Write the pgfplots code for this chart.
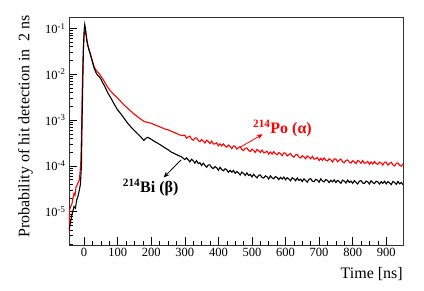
\documentclass[border=0pt]{standalone}
\usepackage{fontspec}
\setmainfont{Liberation Serif}
\usepackage{pgfplots}
\usepackage{pgfplotstable}
\pgfplotsset{compat=1.18}
\usetikzlibrary{arrows.meta}

\pgfplotstableread{
x y
-45 3.5e-6
-43 1.1e-5
-40 1.3e-5
-36 1.5e-5
-33 2.0e-5
-30 2.5e-5
-27 2.3e-5
-24 3.5e-5
-21 3.8e-5
-18 4.3e-5
-14 5.0e-5
-10 1.1e-4
-8 4.0e-4
-6 3.0e-3
-4 1.5e-2
-2 4.0e-2
0 7.0e-2
2 0.085
4 0.092
6 0.075
8 0.060
10 0.048
14 0.036
18 0.029
22 0.023
26 0.018
30 0.0145
35 0.0125
40 0.0112
45 0.0103
50 0.0090
55 0.0080
60 0.0070
70 0.0052
80 0.0042
90 0.0035
100 0.0030
110 0.0025
120 0.0021
130 0.0018
140 0.00155
150 0.00133
160 0.00117
170 0.00103
180 0.00092
190 0.00089
200 0.00085
210 0.00079
220 0.00074
230 0.00069
240 0.00064
250 0.00061
260 0.00057
270 0.00053
280 0.00049
290 0.00046
300 4.68e-4
305 4.02e-4
310 4.27e-4
315 4.47e-4
320 3.86e-4
325 3.62e-4
330 4.05e-4
335 4.08e-4
340 3.59e-4
345 3.37e-4
350 3.76e-4
355 3.48e-4
360 3.15e-4
365 3.63e-4
370 3.40e-4
375 3.08e-4
380 3.47e-4
385 3.00e-4
390 3.03e-4
395 3.19e-4
400 2.74e-4
405 3.02e-4
410 2.72e-4
415 3.03e-4
420 2.71e-4
425 2.56e-4
430 2.84e-4
435 2.67e-4
440 2.38e-4
445 2.73e-4
450 2.69e-4
455 2.33e-4
460 2.49e-4
465 2.63e-4
470 2.28e-4
475 2.16e-4
480 2.43e-4
485 2.46e-4
490 2.18e-4
495 2.06e-4
500 2.32e-4
505 2.16e-4
510 1.97e-4
515 2.28e-4
520 2.15e-4
525 1.97e-4
530 2.22e-4
535 1.94e-4
540 1.98e-4
545 2.09e-4
550 1.81e-4
555 2.01e-4
560 1.81e-4
565 2.05e-4
570 1.84e-4
575 1.75e-4
580 1.95e-4
585 1.85e-4
590 1.67e-4
595 1.92e-4
600 1.90e-4
605 1.65e-4
610 1.77e-4
615 1.87e-4
620 1.63e-4
625 1.55e-4
630 1.74e-4
635 1.77e-4
640 1.57e-4
645 1.49e-4
650 1.67e-4
655 1.57e-4
660 1.43e-4
665 1.65e-4
670 1.56e-4
675 1.43e-4
680 1.61e-4
685 1.40e-4
690 1.44e-4
695 1.52e-4
700 1.31e-4
705 1.46e-4
710 1.32e-4
715 1.49e-4
720 1.34e-4
725 1.28e-4
730 1.43e-4
735 1.35e-4
740 1.22e-4
745 1.41e-4
750 1.41e-4
755 1.23e-4
760 1.33e-4
765 1.41e-4
770 1.23e-4
775 1.17e-4
780 1.32e-4
785 1.35e-4
790 1.20e-4
795 1.15e-4
800 1.30e-4
805 1.22e-4
810 1.12e-4
815 1.31e-4
820 1.25e-4
825 1.14e-4
830 1.31e-4
835 1.14e-4
840 1.17e-4
845 1.25e-4
850 1.09e-4
855 1.22e-4
860 1.10e-4
865 1.25e-4
870 1.13e-4
875 1.08e-4
880 1.21e-4
885 1.15e-4
890 1.04e-4
895 1.21e-4
900 1.20e-4
905 1.04e-4
910 1.13e-4
915 1.20e-4
920 1.05e-4
925 1.00e-4
930 1.13e-4
935 1.16e-4
940 1.03e-4
945 0.99e-4
950 1.11e-4
}\po

\pgfplotstableread{
x y
-45 4.0e-6
-42 5.0e-6
-38 7.5e-6
-34 1.0e-5
-30 1.3e-5
-26 1.2e-5
-22 1.8e-5
-18 2.2e-5
-14 3.0e-5
-11 4.0e-5
-8 1.0e-4
-6 1.0e-3
-4 6.0e-3
-2 3.5e-2
0 9.0e-2
2 0.122
4 0.100
6 0.070
8 0.055
10 0.045
14 0.035
18 0.028
22 0.022
26 0.017
30 0.0135
35 0.0110
40 0.0095
45 0.0088
50 0.0078
55 0.0066
60 0.0057
70 0.0040
80 0.0030
90 0.0022
100 0.00166
110 0.00135
120 0.00107
130 0.00085
140 0.00070
150 0.00059
160 0.00050
170 0.00042
178 0.00036
184 0.00040
190 0.00042
200 0.00038
210 0.00034
220 0.00031
230 0.00028
240 0.00025
250 0.000225
260 0.00020
270 0.000185
280 0.000170
290 0.000158
300 13.73e-5
305 14.90e-5
310 13.67e-5
315 12.24e-5
320 13.98e-5
325 12.96e-5
330 11.51e-5
335 12.98e-5
340 11.23e-5
345 11.72e-5
350 10.19e-5
355 11.46e-5
360 10.26e-5
365 9.31e-5
370 10.50e-5
375 10.55e-5
380 9.17e-5
385 8.77e-5
390 9.67e-5
395 9.09e-5
400 8.01e-5
405 9.32e-5
410 8.31e-5
415 7.83e-5
420 8.66e-5
425 8.18e-5
430 7.25e-5
435 8.03e-5
440 7.28e-5
445 7.97e-5
450 6.88e-5
455 7.56e-5
460 7.01e-5
465 6.35e-5
470 7.33e-5
475 6.88e-5
480 6.19e-5
485 7.05e-5
490 6.18e-5
495 6.52e-5
500 5.74e-5
505 6.54e-5
510 5.94e-5
515 5.46e-5
520 6.24e-5
525 6.36e-5
530 5.60e-5
535 5.43e-5
540 6.06e-5
545 5.78e-5
550 5.17e-5
555 6.08e-5
560 5.48e-5
565 5.23e-5
570 5.85e-5
575 5.59e-5
580 5.02e-5
585 5.63e-5
590 5.16e-5
595 5.71e-5
600 4.99e-5
605 5.52e-5
610 5.18e-5
615 4.73e-5
620 5.52e-5
625 5.22e-5
630 4.74e-5
635 5.45e-5
640 4.82e-5
645 5.13e-5
650 4.56e-5
655 5.23e-5
660 4.78e-5
665 4.43e-5
670 5.10e-5
675 5.24e-5
680 4.64e-5
685 4.53e-5
690 5.10e-5
695 4.90e-5
700 4.41e-5
705 5.20e-5
710 4.70e-5
715 4.48e-5
720 5.03e-5
725 4.82e-5
730 4.33e-5
735 4.87e-5
740 4.47e-5
745 4.96e-5
750 4.34e-5
755 4.83e-5
760 4.55e-5
765 4.18e-5
770 4.89e-5
775 4.66e-5
780 4.24e-5
785 4.91e-5
790 4.36e-5
795 4.66e-5
800 4.16e-5
805 4.77e-5
810 4.36e-5
815 4.04e-5
820 4.65e-5
825 4.77e-5
830 4.23e-5
835 4.14e-5
840 4.65e-5
845 4.47e-5
850 4.02e-5
855 4.75e-5
860 4.31e-5
865 4.12e-5
870 4.63e-5
875 4.45e-5
880 4.01e-5
885 4.52e-5
890 4.16e-5
895 4.62e-5
900 4.06e-5
905 4.52e-5
910 4.25e-5
915 3.90e-5
920 4.57e-5
925 4.35e-5
930 3.96e-5
935 4.58e-5
940 4.06e-5
945 4.35e-5
950 3.88e-5
}\bi

\begin{document}
\begin{tikzpicture}
\useasboundingbox (-69pt,-45pt) rectangle (355pt,245pt);
\begin{axis}[
  at={(0,0)}, anchor=south west,
  scale only axis, width=334pt, height=228pt,
  ymode=log,
  xmin=-45, xmax=950, ymin=1.88e-6, ymax=0.177,
  axis line style={black!80, line width=0.7pt},
  xtick pos=lower, ytick pos=left, tick align=inside,
  xtick={0,100,...,900}, minor x tick num=3,
  ytick={1e-5,1e-4,1e-3,1e-2,1e-1},
  yticklabels={10\textsuperscript{-5},10\textsuperscript{-4},10\textsuperscript{-3},10\textsuperscript{-2},10\textsuperscript{-1}},
  minor ytick={2e-6,3e-6,4e-6,5e-6,6e-6,7e-6,8e-6,9e-6,
               2e-5,3e-5,4e-5,5e-5,6e-5,7e-5,8e-5,9e-5,
               2e-4,3e-4,4e-4,5e-4,6e-4,7e-4,8e-4,9e-4,
               2e-3,3e-3,4e-3,5e-3,6e-3,7e-3,8e-3,9e-3,
               2e-2,3e-2,4e-2,5e-2,6e-2,7e-2,8e-2,9e-2},
  major tick length=8pt, minor tick length=4pt,
  tick style={black, line width=0.5pt},
  ticklabel style={font=\rmfamily\fontsize{12.5}{14}\selectfont},
  /pgf/number format/assume math mode=true,
  clip mode=individual,
]
\addplot[red, line width=1.1pt] table[x=x,y=y] {\po};
\addplot[black, line width=1.1pt] table[x=x,y=y] {\bi};

\draw[red, line width=0.8pt, -{Stealth[length=6pt,width=5pt]}] (axis cs:468,2.63e-4) -- (axis cs:532,4.9e-4);
\node[red, anchor=west, inner sep=0, font=\rmfamily\fontsize{16}{18}\selectfont\bfseries] at (axis cs:503,6.6e-4) {\textsuperscript{214}Po (α)};

\draw[black, line width=0.8pt, -{Stealth[length=6pt,width=5pt]}] (axis cs:289,1.35e-4) -- (axis cs:237,5.6e-5);
\node[black, anchor=west, inner sep=0, font=\rmfamily\fontsize{16}{18}\selectfont\bfseries] at (axis cs:115,3.4e-5) {\textsuperscript{214}Bi (β)};

\node[anchor=north east, inner sep=0, font=\rmfamily\fontsize{16}{18}\selectfont] at ([yshift=-22pt]rel axis cs:1,0) {Time [ns]};
\node[rotate=90, anchor=south east, inner sep=0, font=\rmfamily\fontsize{16}{18}\selectfont] at ([xshift=-36pt,yshift=2pt]rel axis cs:0,1) {Probability of hit detection in\ \ 2 ns};
\end{axis}
\end{tikzpicture}
\end{document}
